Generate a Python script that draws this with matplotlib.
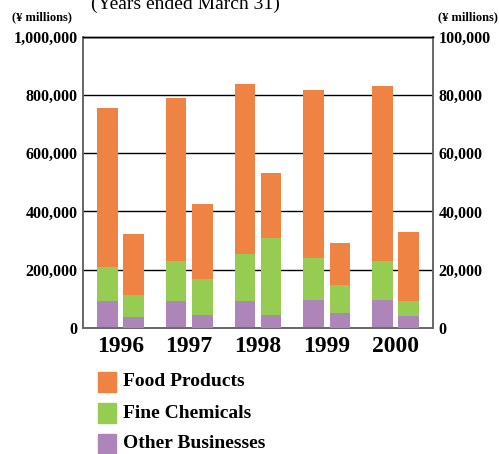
import matplotlib
matplotlib.use("Agg")
import matplotlib.pyplot as plt
import numpy as np

# Fiscal years (ended March 31)
years = ["1996", "1997", "1998", "1999", "2000"]
segments = ["Food Products", "Fine Chemicals", "Other Businesses"]

# Net sales by segment (¥ millions, left axis)
sales_other = [92000, 92000, 92000, 95000, 95000]
sales_fine = [118000, 138000, 163000, 146000, 135000]
sales_food = [545000, 559000, 582000, 575000, 603000]

# Operating income by segment (¥ millions, right axis)
income_other = [3700, 4400, 4400, 5100, 4000]
income_fine = [7600, 12400, 26600, 9600, 5200]
income_food = [21000, 25900, 22300, 14500, 23800]

colors = {"Food Products": "#EE8344",
          "Fine Chemicals": "#97CC52",
          "Other Businesses": "#AE85B8"}

serif = "Liberation Serif"
fig = plt.figure(figsize=(4.99, 4.54), dpi=100)
ax = fig.add_axes([83 / 499, 126.3 / 454, 350 / 499, 290.7 / 454])
ax2 = ax.twinx()

x = np.arange(len(years))
w = 0.30
off = 0.19

def stack(axis, xs, other, fine, food):
    other = np.array(other)
    fine = np.array(fine)
    food = np.array(food)
    axis.bar(xs, other, w, color=colors["Other Businesses"], zorder=3)
    axis.bar(xs, fine, w, bottom=other, color=colors["Fine Chemicals"], zorder=3)
    axis.bar(xs, food, w, bottom=other + fine, color=colors["Food Products"], zorder=3)

stack(ax, x - off, sales_other, sales_fine, sales_food)
stack(ax2, x + off, income_other, income_fine, income_food)

ax.set_xlim(-0.543, 4.543)
ax.set_ylim(0, 1000000)
ax2.set_ylim(0, 100000)

left_ticks = [0, 200000, 400000, 600000, 800000, 1000000]
right_ticks = [0, 20000, 40000, 60000, 80000, 100000]
ax.set_yticks(left_ticks)
ax.set_yticklabels([f"{v:,}" for v in left_ticks])
ax2.set_yticks(right_ticks)
ax2.set_yticklabels([f"{v:,}" for v in right_ticks])

for v in left_ticks[1:]:
    ax.axhline(v, color="black", lw=1.0, zorder=1)

ax.set_xticks(x)
ax.set_xticklabels(years)
for lab in ax.get_xticklabels():
    lab.set_fontfamily(serif)
    lab.set_fontweight("bold")
    lab.set_fontsize(17)
for lab in ax.get_yticklabels() + ax2.get_yticklabels():
    lab.set_fontfamily(serif)
    lab.set_fontweight("bold")
    lab.set_fontsize(11.5)

ax.tick_params(axis="both", length=0, pad=4)
ax.tick_params(axis="x", pad=6)
ax2.tick_params(axis="y", length=0, pad=4)

for a in (ax, ax2):
    for s in a.spines.values():
        s.set_color("#666666")
        s.set_linewidth(1.2)
    a.spines["top"].set_color("black")
    a.spines["top"].set_linewidth(1.0)

fig.text(72 / 499, 1 - 17 / 454, "(¥ millions)", ha="right", va="center",
         family=serif, fontweight="bold", fontsize=9)
fig.text(438 / 499, 1 - 17 / 454, "(¥ millions)", ha="left", va="center",
         family=serif, fontweight="bold", fontsize=9)
fig.text(185 / 499, 1 - 9 / 454, "(Years ended March 31)", ha="center",
         va="baseline", family=serif, fontsize=14)

# legend
rows = [382, 413, 444]
for name, yc in zip(segments, rows):
    fig.patches.append(plt.Rectangle((98 / 499, 1 - (yc + 10) / 454), 18 / 499, 20 / 454,
                                     transform=fig.transFigure, color=colors[name]))
    fig.text(123 / 499, 1 - yc / 454, name, ha="left", va="center",
             family=serif, fontweight="bold", fontsize=14)

fig.savefig("out.png", dpi=100)
